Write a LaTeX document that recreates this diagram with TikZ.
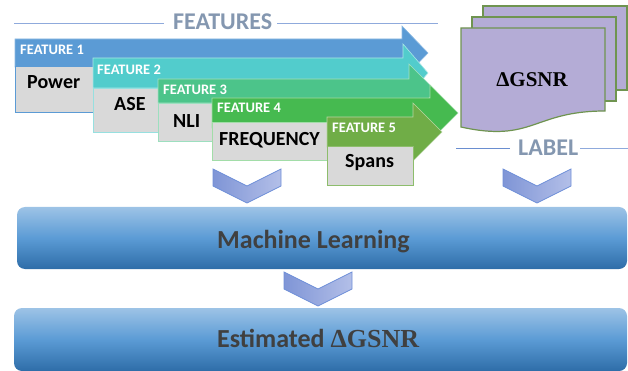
\documentclass[tikz,border=0pt]{standalone}
\usepackage{fontspec}
\setmainfont{Carlito}
\newfontfamily\tmsfont{Liberation Serif}
\definecolor{fone}{HTML}{5B9BD5}
\definecolor{ftwo}{HTML}{52CCCC}
\definecolor{fthree}{HTML}{4CC48A}
\definecolor{ffour}{HTML}{46BA50}
\definecolor{ffive}{HTML}{70AD47}
\definecolor{boxgray}{HTML}{D9D9D9}
\definecolor{titlegray}{HTML}{8497B0}
\definecolor{rulecol}{HTML}{8FAADC}
\definecolor{ruledark}{HTML}{6A8ED0}
\definecolor{docfill}{HTML}{B4ACD6}
\definecolor{docline}{HTML}{6F9450}
\definecolor{chevl}{HTML}{7F95D6}
\definecolor{chevr}{HTML}{B3BFE8}
\definecolor{chevline}{HTML}{6E8FD8}
\definecolor{mltop}{HTML}{9DC3E6}
\definecolor{mlmid}{HTML}{5B9BD5}
\definecolor{mlbot}{HTML}{2E6DA8}
\definecolor{darktext}{HTML}{404040}
\tikzset{
  featlabel/.style={anchor=base west,inner sep=0,text=white,font=\fontsize{14.5}{15}\selectfont\bfseries},
  boxtext/.style={anchor=base west,inner sep=0,text=black,font=\fontsize{20}{21}\selectfont\bfseries},
  title/.style={anchor=base west,inner sep=0,text=titlegray,font=\fontsize{24}{26}\selectfont\bfseries},
  graybox/.style={fill=boxgray,line width=0.9pt},
  doc/.style={fill=docfill,draw=docline,line width=1.2pt},
  rulel/.style={draw=rulecol,line width=1pt},
  bigbox/.style={rounded corners=8pt,top color=mltop,bottom color=mlbot,middle color=mlmid},
  bigtext/.style={anchor=base west,inner sep=0,text=darktext,font=\fontsize{26}{28}\selectfont\bfseries},
  chevron/.pic={\path[left color=chevl,right color=chevr,draw=chevline,line width=0.8pt]
     (-34,0) -- (0,17) -- (34,0) -- (34,17) -- (0,34) -- (-34,17) -- cycle;}
}
\begin{document}
\begin{tikzpicture}[x=1pt,y=-1pt]
\useasboundingbox (0,0) rectangle (628,371);
% FEATURES title
\node[title] (features) at (173,30) {FEATURES};
\coordinate (fl) at (14,24);
\coordinate (fr) at (438,24);
\draw[rulel] (fl) -- ([xshift=-9pt]features.west |- fl);
\draw[rulel] ([xshift=5pt]features.east |- fr) -- (fr);
% Feature 1
\path[fill=fone,draw=fone!70!white,line width=0.6pt] (15,39) -- (402,39) -- (402,26) -- (428,53) -- (402,80) -- (402,67) -- (15,67) -- cycle;
\node[featlabel] (f1) at (20,55) {FEATURE 1};
\draw[graybox,draw=fone] (15,66) rectangle (120,112);
\node[boxtext] (power) at (27,89) {Power};
% Feature 2
\path[fill=ftwo,draw=ftwo!50!white,line width=0.6pt] (93,58) -- (403,58) -- (403,44) -- (428,73) -- (403,102) -- (403,88) -- (93,88) -- cycle;
\node[featlabel] (f2) at (97,75) {FEATURE 2};
\draw[graybox,draw=ftwo!60!white] (93,88) rectangle (175,132);
\node[boxtext] (ase) at (114,111) {ASE};
% Feature 3
\path[fill=fthree,draw=fthree!50!white,line width=0.6pt] (158,79) -- (409,79) -- (409,64) -- (436,91) -- (409,118) -- (409,103) -- (158,103) -- cycle;
\node[featlabel] (f3) at (163,95) {FEATURE 3};
\draw[graybox,draw=fthree!55!white] (158,103) rectangle (230,141);
\node[boxtext] (nli) at (173,128) {NLI};
% Feature 4
\path[fill=ffour,draw=ffour!50!white,line width=0.6pt] (212,98) -- (430,98) -- (430,85) -- (458,113) -- (430,141) -- (430,128) -- (212,128) -- cycle;
\node[featlabel] (f4) at (217,113) {FEATURE 4};
\draw[graybox,draw=ffour!50!white] (212,122) rectangle (340,160);
\node[boxtext] (freq) at (219,146) {FREQUENCY};
% Feature 5
\path[fill=ffive,draw=ffive!50!white,line width=0.6pt] (327,117) -- (413,117) -- (413,103) -- (442,132) -- (413,161) -- (413,147) -- (327,147) -- cycle;
\node[featlabel] (f5) at (332,133) {FEATURE 5};
\draw[graybox,draw=ffive!80!white] (327,146) rectangle (413,185);
\node[boxtext] (spans) at (345,168) {Spans};
% Label documents
\path[doc] (483,6) rectangle (627,90);
\path[doc] (472,17) rectangle (616,101);
\path[doc] (461,28) -- (605,28) -- (605,111) .. controls (533,111) and (533,143) .. (461,127) -- cycle;
\node[anchor=base,inner sep=0,font=\fontsize{21}{22}\selectfont\tmsfont\bfseries] (dg) at (532,87) {ΔGSNR};
% LABEL title
\node[title] (label) at (518,156) {LABEL};
\coordinate (ll) at (456,149);
\coordinate (lr) at (628,149);
\draw[rulel,draw=ruledark] (ll) -- ([xshift=-8pt]label.west |- ll);
\draw[rulel] ([xshift=2pt]label.east |- lr) -- (lr);
% chevrons
\pic at (247,169) {chevron};
\pic at (537,169) {chevron};
% Machine learning box
\path[bigbox] (17,207) rectangle (627,269);
\node[bigtext] (ml) at (217,248) {Machine Learning};
\pic at (318,272) {chevron};
\path[bigbox] (14,308) rectangle (627,371);
\node[bigtext] (est) at (217,347) {Estimated {\tmsfont\bfseries ΔGSNR}};
\end{tikzpicture}
\end{document}
